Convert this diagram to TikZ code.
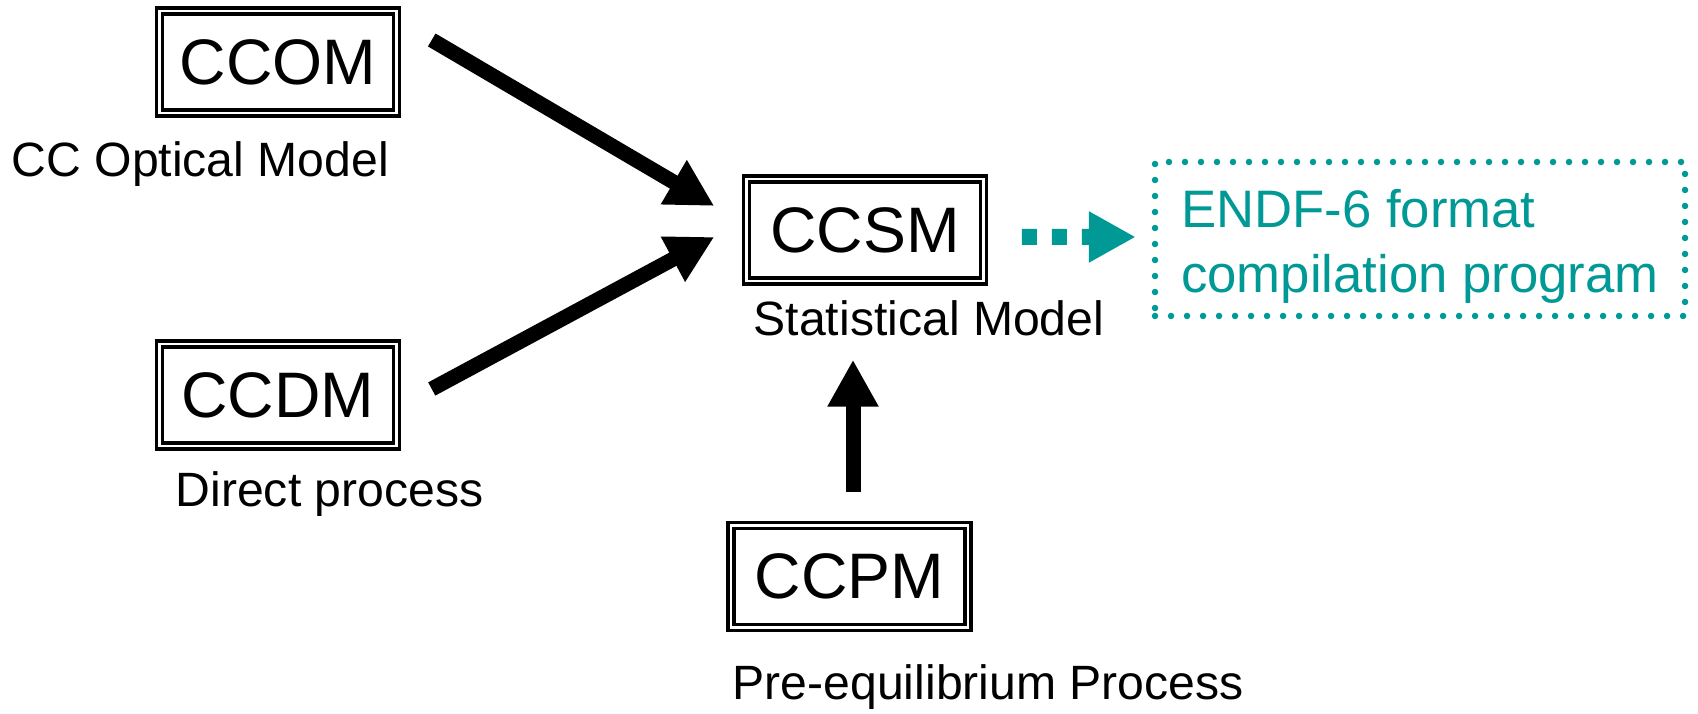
\documentclass[tikz,border=0pt]{standalone}
\usepackage{fontspec}
\setmainfont{Liberation Sans}
\usetikzlibrary{arrows.meta}
\definecolor{endfteal}{RGB}{0,153,150}

\begin{document}
\begin{tikzpicture}[
        modbox/.style={draw,double,line width=0.035cm,double distance=0.028cm,
            minimum width=2.37cm,minimum height=1.02cm,inner sep=0pt,
            font=\fontsize{18.3pt}{22pt}\selectfont},
        caption/.style={anchor=base west,inner sep=0pt,
            font=\fontsize{13.7pt}{16pt}\selectfont},
        fat/.style={line width=0.15cm,-{Triangle[width=0.48cm,length=0.47cm]}},
        dotfat/.style={endfteal,line width=0.16cm,dash pattern=on 0.15cm off 0.15cm,
            -{Triangle[width=0.48cm,length=0.47cm]}}]
    \useasboundingbox (0,0) rectangle (16.98,7.14);

    \node[modbox] (ccom) at (2.78,6.52) {CCOM};
    \node[modbox] (ccdm) at (2.78,3.19) {CCDM};
    \node[modbox] (ccsm) at (8.65,4.84) {CCSM};
    \node[modbox] (ccpm) at (8.495,1.375) {CCPM};

    \node[caption] (ccomtxt) at (0.11,5.37) {CC Optical Model};
    \node[caption] (ccdmtxt) at (1.75,2.07) {Direct process};
    \node[caption] (ccsmtxt) at (7.53,3.78) {Statistical Model};
    \node[caption] (ccpmtxt) at (7.32,0.14) {Pre-equilibrium Process};

    \node[draw=endfteal,text=endfteal,line width=0.065cm,line cap=round,
          dash pattern=on 0pt off 0.16cm,minimum width=5.30cm,minimum height=1.54cm,
          inner sep=0pt,align=left,font=\fontsize{15pt}{18.5pt}\selectfont]
          (endf) at (14.20,4.75) {\rule{0pt}{0.52cm}ENDF-6 format\\compilation program};

    \draw[fat] ([shift={(0.335,0.22)}]ccom.east) -- ([shift={(-0.305,0.24)}]ccsm.west);
    \draw[fat] ([shift={(0.335,0.06)}]ccdm.east) -- ([shift={(-0.305,-0.07)}]ccsm.west);
    \draw[fat] ([shift={(0.035,0.315)}]ccpm.north) -- ([shift={(-0.12,-0.77)}]ccsm.south);
    \draw[dotfat] ([shift={(0.365,-0.07)}]ccsm.east) -- ([shift={(-0.16,0.02)}]endf.west);
\end{tikzpicture}
\end{document}
